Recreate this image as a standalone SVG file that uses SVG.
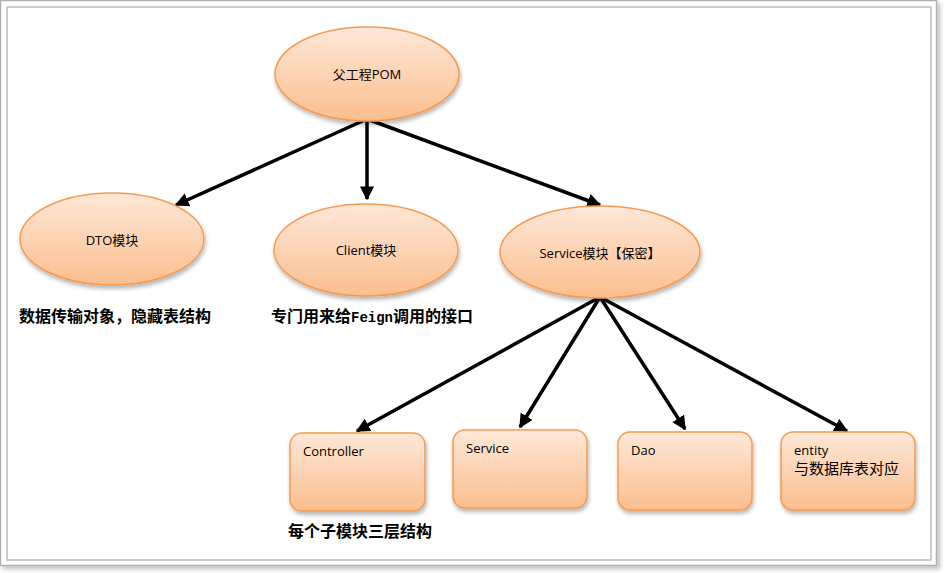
<svg xmlns="http://www.w3.org/2000/svg" width="944" height="573" viewBox="0 0 944 573">
<defs>
<linearGradient id="g" x1="0" y1="0" x2="0" y2="1">
<stop offset="0" stop-color="#fee8d8"/>
<stop offset="1" stop-color="#fbbe8e"/>
</linearGradient>
<filter id="sh" x="-10%" y="-10%" width="130%" height="130%">
<feGaussianBlur in="SourceAlpha" stdDeviation="2"/>
<feOffset dx="1" dy="3" result="b"/>
<feComponentTransfer><feFuncA type="linear" slope="0.3"/></feComponentTransfer>
<feMerge><feMergeNode/><feMergeNode in="SourceGraphic"/></feMerge>
</filter>
<filter id="fsh" x="-5%" y="-5%" width="110%" height="110%">
<feGaussianBlur in="SourceAlpha" stdDeviation="2"/>
<feOffset dx="3" dy="3"/>
<feComponentTransfer><feFuncA type="linear" slope="0.25"/></feComponentTransfer>
<feMerge><feMergeNode/><feMergeNode in="SourceGraphic"/></feMerge>
</filter>
<marker id="ah" viewBox="0 0 10 10" refX="9" refY="5" markerWidth="4" markerHeight="4" orient="auto" markerUnits="strokeWidth">
<path d="M0,0 L10,5 L0,10 z" fill="#000"/>
</marker>
</defs>
<style>
.n{fill:url(#g);stroke:#f59a52;stroke-width:1.5;filter:url(#sh)}
.t{font-family:"Open Sans","Noto Sans CJK SC",sans-serif;font-size:13px;fill:#000}
.c{text-anchor:middle}
.b{font-family:"Noto Sans CJK SC",sans-serif;font-size:16px;font-weight:bold;fill:#000}
.m{font-family:"Liberation Mono",monospace;font-size:14px;font-weight:bold}
.e{stroke:#000;stroke-width:3.5;fill:none;marker-end:url(#ah)}
</style>
<rect x="0.5" y="0.5" width="936" height="565" fill="#fff" stroke="#b0b0b0" stroke-width="1.5" filter="url(#fsh)"/>
<rect x="7" y="7" width="924" height="553" fill="#fff" stroke="#bcbcbc" stroke-width="1.5"/>
<g id="connectors">
<line class="e" x1="367" y1="119" x2="176" y2="205"/>
<line class="e" x1="367" y1="119" x2="367" y2="199"/>
<line class="e" x1="367" y1="119" x2="600" y2="205"/>
<line class="e" x1="600" y1="297" x2="357" y2="431"/>
<line class="e" x1="600" y1="297" x2="520" y2="427"/>
<line class="e" x1="600" y1="297" x2="685" y2="429"/>
<line class="e" x1="600" y1="297" x2="847" y2="431"/>
</g>
<g id="pom"><ellipse class="n" cx="367" cy="74" rx="92" ry="47"/><text class="t c" x="367" y="79">父工程POM</text></g>
<g id="dto"><ellipse class="n" cx="112" cy="239" rx="92" ry="46"/><text class="t c" x="112" y="245">DTO模块</text></g>
<g id="client"><ellipse class="n" cx="366" cy="250" rx="92" ry="46"/><text class="t c" x="366" y="255">Client模块</text></g>
<g id="service-module"><ellipse class="n" cx="600" cy="252" rx="100" ry="46"/><text class="t c" x="600" y="258">Service模块【保密】</text></g>
<g id="dto-note"><text class="b" x="19" y="322">数据传输对象，隐藏表结构</text></g>
<g id="client-note"><text class="b" x="271" y="322">专门用来给<tspan class="m">Feign</tspan>调用的接口</text></g>
<g id="controller"><rect class="n" x="290" y="433" width="135" height="78" rx="12"/><text class="t" x="303" y="456">Controller</text></g>
<g id="service"><rect class="n" x="453" y="430" width="134" height="78" rx="12"/><text class="t" x="466" y="453">Service</text></g>
<g id="dao"><rect class="n" x="618" y="432" width="134" height="78" rx="12"/><text class="t" x="631" y="455">Dao</text></g>
<g id="entity"><rect class="n" x="781" y="432" width="134" height="78" rx="12"/><text class="t" x="794" y="455">entity</text><text class="t" x="794" y="474" style="font-size:15px">与数据库表对应</text></g>
<g id="layer-note"><text class="b" x="288" y="537">每个子模块三层结构</text></g>
</svg>
